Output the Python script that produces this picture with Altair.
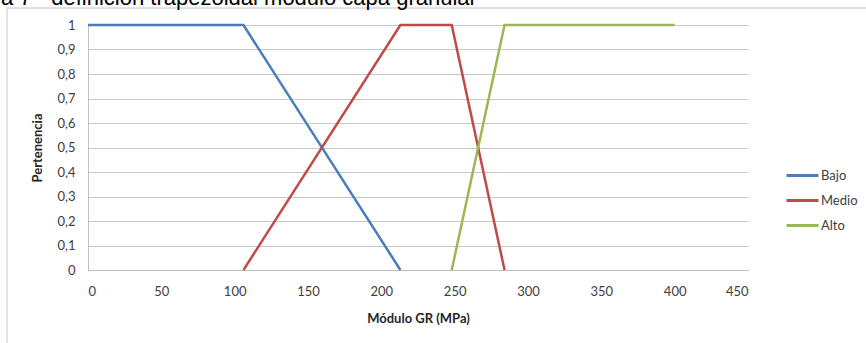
import altair as alt
import pandas as pd

# Series (x in MPa, membership)
bajo_x = [0, 106, 213]
bajo_y = [1, 1, 0]
medio_x = [106, 213, 248, 284]
medio_y = [0, 1, 1, 0]
alto_x = [248, 284, 400]
alto_y = [0, 1, 1]

series_names = ["Bajo", "Medio", "Alto"]
series_colors = ["#4a7ebb", "#be4b48", "#98b954"]

x_ticks = [0, 50, 100, 150, 200, 250, 300, 350, 400, 450]
y_ticks = [0, 0.1, 0.2, 0.3, 0.4, 0.5, 0.6, 0.7, 0.8, 0.9, 1]

caption = ["Figura 7 - definición trapezoidal módulo capa granular"]

rows = []
for name, xs, ys in zip(series_names, [bajo_x, medio_x, alto_x], [bajo_y, medio_y, alto_y]):
    for i, (xv, yv) in enumerate(zip(xs, ys)):
        rows.append({"serie": name, "x": xv, "y": yv, "i": i})
df = pd.DataFrame(rows)

W, H = 660, 245
PL, PT = 88, 25

font = "Lato"

lines = alt.Chart(df).mark_line(strokeWidth=2.5).encode(
    x=alt.X("x:Q", scale=alt.Scale(domain=[0, 450], nice=False),
            axis=alt.Axis(values=x_ticks, title="Módulo GR (MPa)", grid=False,
                          domainColor="#bfbfbf", domainWidth=1, ticks=False,
                          labelPadding=15, titlePadding=14)),
    y=alt.Y("y:Q", scale=alt.Scale(domain=[0, 1], nice=False),
            axis=alt.Axis(values=y_ticks, title="Pertenencia", grid=True,
                          gridColor="#c8c8c8", gridWidth=1,
                          domainColor="#bfbfbf", domainWidth=1, ticks=False,
                          labelPadding=13, titlePadding=12,
                          labelExpr="datum.value == 0 ? '0' : datum.value == 1 ? '1' : replace(format(datum.value, '.1f'), '.', ',')")),
    color=alt.Color("serie:N", scale=alt.Scale(domain=series_names, range=series_colors),
                    legend=alt.Legend(title=None, orient="none", legendX=697, legendY=133,
                                      symbolType="stroke", symbolSize=1024, symbolStrokeWidth=3,
                                      labelFontSize=13, labelFont=font, labelColor="#404040",
                                      labelOffset=1, rowPadding=-8)),
    order="i:Q",
)

border = alt.Chart(pd.DataFrame({"a": [0]})).mark_rect(
    fillOpacity=0, stroke="#d9d9d9", strokeWidth=1.5
).encode(
    x=alt.value(7 - PL), x2=alt.value(900), y=alt.value(8 - PT), y2=alt.value(400)
)

cap = alt.Chart(pd.DataFrame({"t": caption})).mark_text(
    font="Liberation Sans", fontSize=22, align="left", baseline="alphabetic", color="#000000"
).encode(
    text="t:N", x=alt.value(-49 - PL), y=alt.value(4.5 - PT)
)

chart = alt.layer(border, lines, cap).properties(
    width=W, height=H,
    autosize=alt.AutoSizeParams(type="none"),
    padding={"left": PL, "top": PT, "right": 866 - PL - W, "bottom": 343 - PT - H},
    background="white",
).configure_view(stroke=None).configure_axis(
    labelFont=font, labelFontSize=13, labelColor="#404040",
    titleFont=font, titleFontSize=13, titleFontWeight="bold", titleColor="#262626",
)

chart.save("out.html", embed_options={"renderer": "svg", "actions": False})
